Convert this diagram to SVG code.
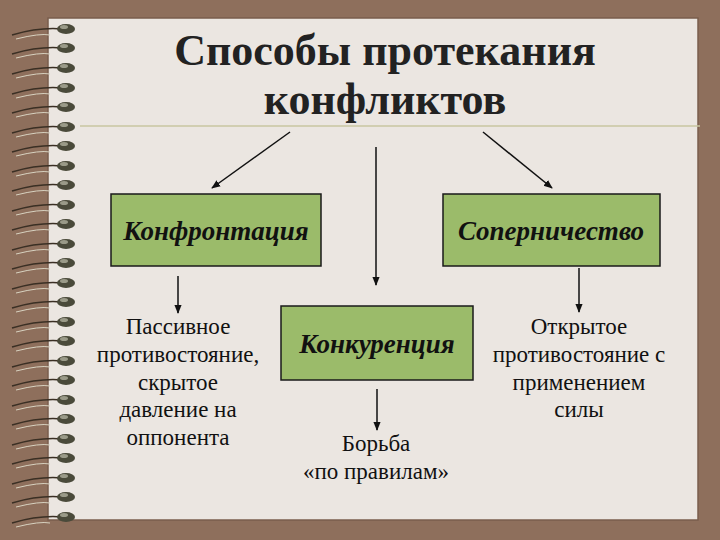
<svg xmlns="http://www.w3.org/2000/svg" xmlns:xlink="http://www.w3.org/1999/xlink" width="720" height="540" viewBox="0 0 720 540">
<style>
.box{fill:#9bbb6a;stroke:#1a1a1a;stroke-width:1.5}
.bt{font-family:"Liberation Serif",serif;font-style:italic;font-weight:bold;font-size:27px;fill:#111;text-anchor:middle}
.t{font-family:"Liberation Serif",serif;font-size:23px;fill:#111;text-anchor:middle}
.c{stroke:#111;stroke-width:1.5;fill:none;marker-end:url(#a)}
</style>
<defs>
<marker id="a" viewBox="0 0 10 10" refX="9" refY="5" markerWidth="6" markerHeight="6" orient="auto"><path d="M0,1 L10,5 L0,9 z" fill="#111"/></marker>
<g id="ring">
<path d="M12,8 Q40,0 62,2" stroke="#3a2f24" stroke-width="1.5" fill="none"/>
<path d="M16,12 Q40,6 50,8" stroke="#d8d2c0" stroke-width="1" fill="none"/>
<ellipse cx="66" cy="2" rx="9" ry="5" fill="#4a4a3a"/>
<ellipse cx="64" cy="0" rx="4" ry="2" fill="#9a9a88"/>
</g>
</defs>
<rect width="720" height="540" fill="#8e6f5c"/>
<rect x="48" y="18" width="650" height="502" fill="#ebe6e1" stroke="#7a5e4c" stroke-width="1.5"/>
<line x1="80" y1="126" x2="700" y2="126" stroke="#c9c6a0" stroke-width="1.5"/>
<g id="spiral">
<use xlink:href="#ring" y="27"/><use xlink:href="#ring" y="46"/><use xlink:href="#ring" y="66"/><use xlink:href="#ring" y="86"/><use xlink:href="#ring" y="105"/><use xlink:href="#ring" y="125"/><use xlink:href="#ring" y="144"/><use xlink:href="#ring" y="164"/><use xlink:href="#ring" y="183"/><use xlink:href="#ring" y="203"/><use xlink:href="#ring" y="222"/><use xlink:href="#ring" y="242"/><use xlink:href="#ring" y="261"/><use xlink:href="#ring" y="281"/><use xlink:href="#ring" y="300"/><use xlink:href="#ring" y="320"/><use xlink:href="#ring" y="339"/><use xlink:href="#ring" y="359"/><use xlink:href="#ring" y="378"/><use xlink:href="#ring" y="398"/><use xlink:href="#ring" y="417"/><use xlink:href="#ring" y="437"/><use xlink:href="#ring" y="456"/><use xlink:href="#ring" y="476"/><use xlink:href="#ring" y="495"/><use xlink:href="#ring" y="515"/>
</g>
<g id="title" font-family="Liberation Serif,serif" font-size="44" font-weight="bold" fill="#222" text-anchor="middle">
<text x="385" y="65">Способы протекания</text>
<text x="385" y="114">конфликтов</text>
</g>
<g id="connectors">
<line class="c" x1="290" y1="132" x2="212" y2="188"/>
<line class="c" x1="483" y1="132" x2="552" y2="188"/>
<line class="c" x1="376" y1="147" x2="376" y2="285"/>
<line class="c" x1="178" y1="276" x2="178" y2="313"/>
<line class="c" x1="377" y1="389" x2="377" y2="430"/>
<line class="c" x1="579" y1="268" x2="579" y2="312"/>
</g>
<g id="konfrontaciya"><rect class="box" x="111" y="194" width="210" height="72"/><text class="bt" x="216" y="240">Конфронтация</text></g>
<g id="sopernichestvo"><rect class="box" x="443" y="194" width="217" height="72"/><text class="bt" x="551" y="240">Соперничество</text></g>
<g id="konkurenciya"><rect class="box" x="281" y="306" width="192" height="74"/><text class="bt" x="377" y="353">Конкуренция</text></g>
<g id="passive"><text class="t" x="178" y="334">Пассивное</text><text class="t" x="178" y="362">противостояние,</text><text class="t" x="178" y="390">скрытое</text><text class="t" x="178" y="417">давление на</text><text class="t" x="178" y="445">оппонента</text></g>
<g id="open"><text class="t" x="579" y="334">Открытое</text><text class="t" x="579" y="362">противостояние с</text><text class="t" x="579" y="390">применением</text><text class="t" x="579" y="417">силы</text></g>
<g id="borba"><text class="t" x="376" y="451">Борьба</text><text class="t" x="376" y="479">«по правилам»</text></g>
</svg>
